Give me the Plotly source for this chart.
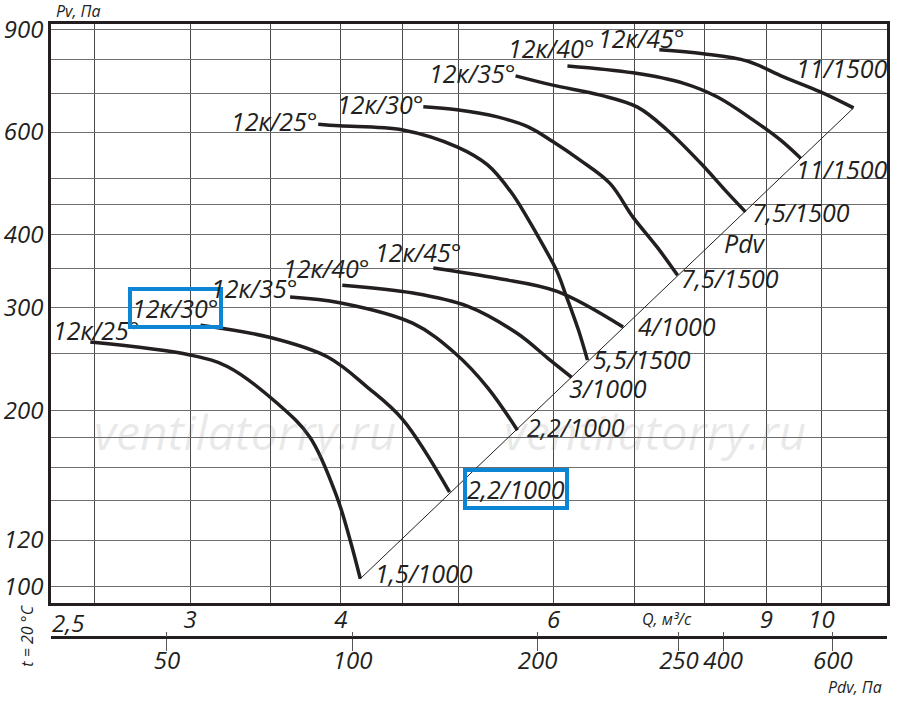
import math
import plotly.graph_objects as go

# расход Q, м3/с и полное давление Pv, Па
q_1000_25 = [2.48, 3.00, 3.22, 3.54, 3.77, 3.97, 4.07, 4.15]
pv_1000_25 = [262, 249, 238, 206, 180, 142, 120, 103]
q_1000_30 = [3.06, 3.49, 3.90, 4.21, 4.50, 4.92]
pv_1000_30 = [280, 267, 247, 219, 193, 145]
q_1000_35 = [3.63, 3.99, 4.59, 4.97, 5.29, 5.60]
pv_1000_35 = [313, 306, 282, 251, 219, 185]
q_1000_40 = [4.01, 4.59, 5.09, 5.60, 5.96, 6.21]
pv_1000_40 = [328, 318, 302, 271, 244, 228]
q_1000_45 = [4.77, 5.39, 6.04, 6.85]
pv_1000_45 = [351, 337, 320, 278]

q_1500_25 = [3.83, 3.99, 4.50, 4.99, 5.29, 5.53, 5.71, 5.88, 6.04, 6.14, 6.29, 6.40]
pv_1500_25 = [619, 615, 605, 566, 527, 474, 427, 384, 346, 316, 275, 244]
q_1500_30 = [4.68, 4.99, 5.39, 5.71, 5.99, 6.31, 6.68, 6.98, 7.31, 7.60]
pv_1500_30 = [663, 655, 637, 613, 578, 537, 490, 429, 381, 341]
q_1500_35 = [5.58, 5.99, 6.56, 7.04, 7.45, 7.94, 8.36, 8.65]
pv_1500_35 = [749, 722, 694, 662, 605, 531, 472, 438]
q_1500_40 = [6.16, 6.98, 7.68, 8.20, 8.78, 9.25, 9.61]
pv_1500_40 = [779, 758, 728, 689, 629, 581, 541]
q_1500_45 = [7.34, 7.98, 8.68, 9.30, 9.98, 10.63]
pv_1500_45 = [830, 817, 794, 746, 703, 660]

angles = ["12к/25°", "12к/30°", "12к/35°", "12к/40°", "12к/45°"]
motors_1000 = ["1,5/1000", "2,2/1000", "2,2/1000", "3/1000", "4/1000"]
motors_1500 = ["5,5/1500", "7,5/1500", "7,5/1500", "11/1500", "11/1500"]

q_grid = [2.5, 3, 3.5, 4, 4.5, 5, 6, 7, 8, 9, 10]
q_labeled = [3, 4, 6, 9, 10]
pv_grid = [100, 120, 140, 160, 180, 200, 250, 300, 350, 400, 450, 500, 600, 700, 800, 900]
pv_labeled = [100, 120, 200, 300, 400, 600, 900]

# шкала динамического давления Pdv (положение по Q)
pdv_q = [2.87, 4.09, 5.82, 7.62, 8.29, 10.22]
pdv_text = ["50", "100", "200", "250", "400", "600"]

curves_1000 = [(q_1000_25, pv_1000_25), (q_1000_30, pv_1000_30), (q_1000_35, pv_1000_35),
               (q_1000_40, pv_1000_40), (q_1000_45, pv_1000_45)]
curves_1500 = [(q_1500_25, pv_1500_25), (q_1500_30, pv_1500_30), (q_1500_35, pv_1500_35),
               (q_1500_40, pv_1500_40), (q_1500_45, pv_1500_45)]

INK = "#231f20"
BLUE = "#0a86d4"
FONT = "Open Sans"

fig = go.Figure()

for q, pv in curves_1000 + curves_1500:
    fig.add_trace(go.Scatter(
        x=q, y=pv, mode="lines",
        line=dict(color=INK, width=3.5, shape="spline", smoothing=1.0),
        hoverinfo="skip", showlegend=False
    ))

# линия Pdv через концы характеристик
fig.add_trace(go.Scatter(
    x=[q_1000_25[-1], q_1500_45[-1]],
    y=[pv_1000_25[-1], pv_1500_45[-1]],
    mode="lines", line=dict(color=INK, width=1),
    hoverinfo="skip", showlegend=False
))

# пустые трассы, чтобы нарисовать шкалу Pdv
for ax in ["x2", "x3"]:
    fig.add_trace(go.Scatter(x=[], y=[], xaxis=ax, yaxis="y", showlegend=False))

# подписи углов (слева от начала кривой) и двигателей (у конца)
start_shift_1000 = [(50, 12), (22, 17), (8, 9), (28, 17), (29, 16)]
start_shift_1500 = [(0, 3), (1, 3), (0, 3), (28, 18), (26, 12)]
end_shift_1000 = [(15, 6), (13, 3), (10, 3), (-3, -11), (15, 1)]
end_shift_1500 = [(6, 1), (3, -3), (7, 0), (-5, -11), (-58, 40)]

boxed_start = {(1000, 1)}
boxed_end = {(1000, 1)}

label_font = dict(size=25, color=INK, family=FONT, style="italic")

annotations = []
groups = [(1000, curves_1000, motors_1000, start_shift_1000, end_shift_1000),
          (1500, curves_1500, motors_1500, start_shift_1500, end_shift_1500)]
for rpm, curves, motors, s_shift, e_shift in groups:
    for i, (q, pv) in enumerate(curves):
        box = (rpm, i) in boxed_start
        annotations.append(dict(
            x=math.log10(q[0]), y=math.log10(pv[0]), xref="x", yref="y",
            text=angles[i], showarrow=False, xanchor="right", yanchor="middle",
            xshift=s_shift[i][0], yshift=s_shift[i][1], font=label_font,
            bordercolor=BLUE if box else None, borderwidth=4 if box else 0, borderpad=0
        ))
        box = (rpm, i) in boxed_end
        annotations.append(dict(
            x=math.log10(q[-1]), y=math.log10(pv[-1]), xref="x", yref="y",
            text=motors[i], showarrow=False, xanchor="left", yanchor="middle",
            xshift=e_shift[i][0], yshift=e_shift[i][1], font=label_font,
            bordercolor=BLUE if box else None, borderwidth=4 if box else 0, borderpad=0
        ))

small_font = dict(size=16, color=INK, family=FONT, style="italic")
annotations += [
    dict(x=math.log10(8.65), y=math.log10(387), xref="x", yref="y", text="Pdv",
         showarrow=False, xanchor="center", yanchor="middle", font=label_font),
    dict(x=math.log10(2.5), y=0.1267, xref="x", yref="paper", text="2,5",
         showarrow=False, xanchor="center", yanchor="top", xshift=-27, yshift=-1,
         font=dict(size=24, color=INK, family=FONT, style="italic")),
    dict(x=0.737, y=0.1026, xref="paper", yref="paper", text="Q, м³/с",
         showarrow=False, xanchor="center", yanchor="middle", font=small_font),
    dict(x=1, y=0.0, xref="paper", yref="paper", text="Pdv, Па", xanchor="right",
         yanchor="middle", xshift=-3, showarrow=False, font=small_font),
    dict(x=0, y=1, xref="paper", yref="paper", text="Pv, Па", xanchor="left",
         yanchor="bottom", xshift=3, showarrow=False, font=small_font),
    dict(x=-0.029, y=0.077, xref="paper", yref="paper", text="t = 20 °C",
         textangle=-90, showarrow=False, xanchor="center", yanchor="middle",
         font=small_font),
]

# водяной знак
for wx in [0.232, 0.7225]:
    annotations.append(dict(
        x=wx, y=0.385, xref="paper", yref="paper", text="ventilatorry.ru",
        showarrow=False, xanchor="center", yanchor="middle",
        font=dict(size=48, color="rgba(120,120,120,0.16)", family=FONT, style="italic")
    ))

x_range = [math.log10(2.301), math.log10(11.33)]
y_range = [math.log10(93.6), math.log10(919)]
tick_font = dict(size=24, color=INK, family=FONT, style="italic")

fig.update_layout(
    width=900, height=707,
    margin=dict(l=51, r=13, t=24, b=20, autoexpand=False),
    plot_bgcolor="white", paper_bgcolor="white",
    font=dict(family=FONT, size=22, color=INK, style="italic"),
    showlegend=False,
    annotations=annotations,
    xaxis=dict(
        type="log", range=x_range, tickmode="array", tickvals=q_grid,
        ticktext=[str(v) if v in q_labeled else "" for v in q_grid],
        showgrid=True, gridcolor="#4a4a4a", gridwidth=1,
        showline=True, linecolor=INK, linewidth=2.5, mirror=True,
        ticks="", zeroline=False, ticklabelstandoff=-7, tickfont=tick_font,
        automargin=False,
    ),
    yaxis=dict(
        type="log", range=y_range, domain=[0.1267, 1], tickmode="array",
        tickvals=pv_grid,
        ticktext=[str(v) if v in pv_labeled else "" for v in pv_grid],
        showgrid=True, gridcolor="#6e6e6e", gridwidth=1.4,
        showline=True, linecolor=INK, linewidth=2.5, mirror=True,
        ticks="", zeroline=False, tickfont=tick_font, automargin=False,
    ),
    xaxis2=dict(
        type="log", range=x_range, overlaying="x", anchor="free", position=0.0759,
        side="bottom", showgrid=False, showline=True, linecolor=INK, linewidth=3,
        tickmode="array", tickvals=pdv_q, ticktext=pdv_text,
        ticks="outside", ticklen=12, tickwidth=1, tickcolor="#555",
        zeroline=False, ticklabelstandoff=-10, tickfont=tick_font, automargin=False,
    ),
    xaxis3=dict(
        type="log", range=x_range, overlaying="x", anchor="free", position=0.0759,
        side="bottom", showgrid=False, showline=False,
        tickmode="array", tickvals=pdv_q, showticklabels=False,
        ticks="inside", ticklen=5, tickwidth=1, tickcolor="#555",
        zeroline=False, automargin=False,
    ),
)

fig.write_html("out.html", config={"displayModeBar": False},
               post_script="document.body.style.margin='0';")
